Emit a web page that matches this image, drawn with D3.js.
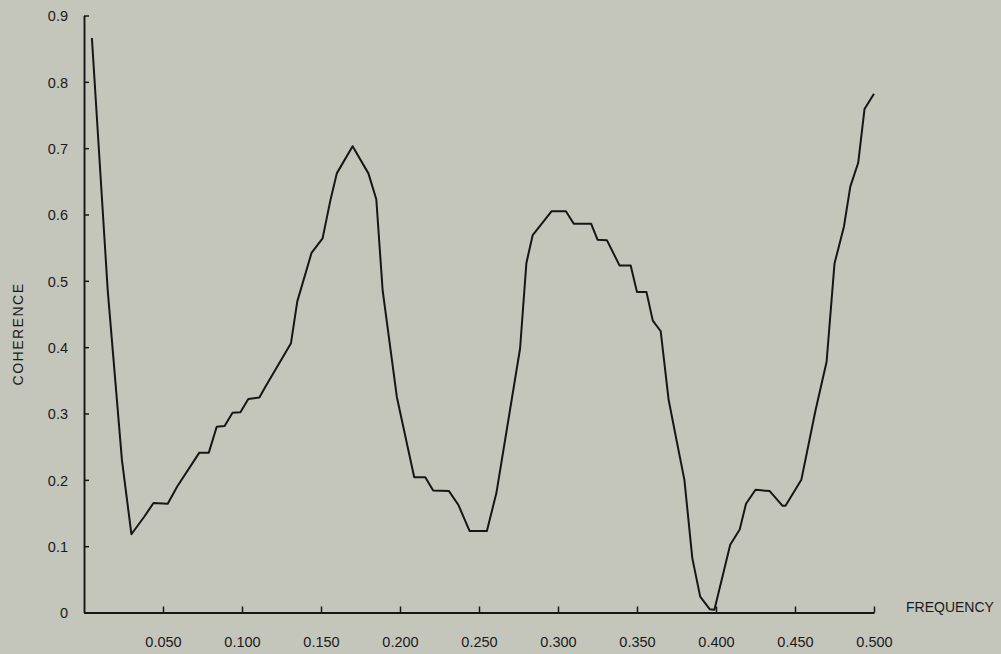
<!DOCTYPE html>
<html>
<head>
<meta charset="utf-8">
<script src="https://cdn.jsdelivr.net/npm/d3@7"></script>
<style>
  html, body { margin: 0; padding: 0; background: #c5c6bb; }
  svg { display: block; }
  text { font-family: "Liberation Sans", Arial, Helvetica, sans-serif; fill: #1a1a1a; }
</style>
</head>
<body>
<div id="chart"></div>
<script>
// frequency / coherence vertices
const frequency = [
  0.005, 0.015, 0.024, 0.030, 0.038, 0.044, 0.053, 0.059, 0.073, 0.079,
  0.084, 0.089, 0.094, 0.099, 0.104, 0.111, 0.115, 0.131, 0.135, 0.144,
  0.151, 0.156, 0.160, 0.170, 0.180, 0.185, 0.189, 0.198, 0.209, 0.216,
  0.221, 0.231, 0.237, 0.244, 0.255, 0.261, 0.276, 0.280, 0.284, 0.296,
  0.305, 0.310, 0.321, 0.325, 0.331, 0.339, 0.346, 0.350, 0.356, 0.360,
  0.365, 0.370, 0.375, 0.380, 0.385, 0.390, 0.396, 0.399, 0.409, 0.415,
  0.419, 0.425, 0.434, 0.442, 0.444, 0.454, 0.463, 0.470, 0.475, 0.481,
  0.485, 0.490, 0.494, 0.500,
];
const coherence = [
  0.866, 0.486, 0.230, 0.118, 0.144, 0.165, 0.164, 0.190, 0.241, 0.241,
  0.280, 0.281, 0.301, 0.302, 0.322, 0.324, 0.341, 0.406, 0.469, 0.542,
  0.564, 0.622, 0.662, 0.703, 0.662, 0.623, 0.486, 0.325, 0.204, 0.204,
  0.184, 0.183, 0.162, 0.123, 0.123, 0.180, 0.398, 0.527, 0.569, 0.605,
  0.605, 0.586, 0.586, 0.562, 0.561, 0.523, 0.523, 0.483, 0.483, 0.440,
  0.424, 0.321, 0.260, 0.200, 0.082, 0.024, 0.005, 0.004, 0.102, 0.125,
  0.164, 0.185, 0.183, 0.161, 0.161, 0.200, 0.305, 0.378, 0.526, 0.582,
  0.642, 0.678, 0.759, 0.782,
];
const xTicks = [0.05, 0.1, 0.15, 0.2, 0.25, 0.3, 0.35, 0.4, 0.45, 0.5];
const yTicks = [0, 0.1, 0.2, 0.3, 0.4, 0.5, 0.6, 0.7, 0.8, 0.9];

const width = 1001;
const height = 654;

const svg = d3
  .select("#chart")
  .append("svg")
  .attr("width", width)
  .attr("height", height);

const xScale = d3.scaleLinear().domain([0, 0.5]).range([84, 874]);
const yScale = d3.scaleLinear().domain([0, 0.9]).range([612.5, 15.5]);

const ink = "#161616";

// x axis, ticks point up into the plot
const xAxis = d3
  .axisBottom(xScale)
  .tickValues(xTicks)
  .tickFormat(d3.format(".3f"))
  .tickSizeInner(-6)
  .tickSizeOuter(0)
  .tickPadding(24);

const gx = svg
  .append("g")
  .attr("transform", `translate(0,${yScale(0)})`)
  .call(xAxis);
gx.select(".domain").attr("stroke", ink).attr("stroke-width", 1.9);
gx.selectAll(".tick line").attr("stroke", ink).attr("stroke-width", 1.5);
gx.selectAll(".tick text").style("font-size", "14.5px");

// y axis, ticks point right
const yAxis = d3
  .axisLeft(yScale)
  .tickValues(yTicks)
  .tickFormat((d) => (d === 0 ? "0" : d3.format(".1f")(d)))
  .tickSizeInner(-5)
  .tickSizeOuter(0)
  .tickPadding(16);

const gy = svg
  .append("g")
  .attr("transform", `translate(${xScale(0)},0)`)
  .call(yAxis);
gy.select(".domain").attr("stroke", ink).attr("stroke-width", 1.9);
gy.selectAll(".tick line").attr("stroke", ink).attr("stroke-width", 1.5);
gy.selectAll(".tick text")
  .style("font-size", "14.5px")
  .attr("dy", "0.36em");

// axis titles
svg
  .append("text")
  .attr("x", 906)
  .attr("y", 612)
  .style("font-size", "14px")
  .text("FREQUENCY");

svg
  .append("text")
  .attr("transform", "translate(23,334) rotate(-90)")
  .attr("text-anchor", "middle")
  .style("font-size", "14px")
  .attr("letter-spacing", "1.5px")
  .text("COHERENCE");

// coherence curve
const points = frequency.map((f, i) => [f, coherence[i]]);
const line = d3
  .line()
  .x((d) => xScale(d[0]))
  .y((d) => yScale(d[1]));

svg
  .append("path")
  .datum(points)
  .attr("d", line)
  .attr("fill", "none")
  .attr("stroke", ink)
  .attr("stroke-width", 2)
  .attr("stroke-linejoin", "round");
</script>
</body>
</html>
